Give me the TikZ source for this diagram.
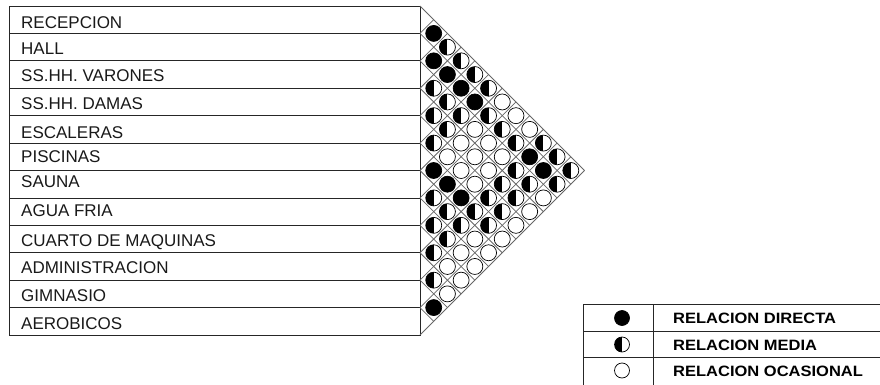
\documentclass[tikz,border=0pt]{standalone}
\usepackage{fontspec}
\setmainfont{Liberation Sans}
\def\hh{27.4167}
\newcommand\relrow[2]{%
  \foreach \t [count=\k] in {#2} {%
    \pgfmathtruncatemacro\jj{#1+\k}%
    \node[rel\t] (c-#1-\jj) at ({420+\k*\hh/2}, {6+(#1+\jj-1)*\hh/2}) {};
  }}
\tikzset{
  tbl/.style={draw=black!85, line width=0.8pt},
  diag/.style={draw=black!60, line width=0.8pt},
  reldot/.style={circle, draw=black, line width=0.7pt, fill=white, minimum size=16pt, inner sep=0pt},
  relD/.style={reldot, fill=black},
  halfpic/.style={path picture={\fill[black] (path picture bounding box.north) rectangle (path picture bounding box.south west);}},
  relM/.style={reldot, halfpic},
  relO/.style={reldot},
  legdot/.style={reldot, minimum size=15pt},
  lbl/.style={anchor=base west, inner sep=0pt, font=\fontsize{17}{19}\selectfont, text=black!90},
  leg/.style={anchor=base west, inner sep=0pt, font=\fontsize{15}{17}\selectfont\bfseries},
}
\begin{document}
\begin{tikzpicture}[x=1pt,y=-1pt]
\useasboundingbox (0,0) rectangle (880,385);
% table
\draw[tbl] (9.5,6) rectangle (420,335);
\foreach \k in {1,...,11} \draw[tbl] (9.5,{6+\k*\hh}) -- (420,{6+\k*\hh});
% diagonals
\foreach \k in {0,...,12} {
  \pgfmathsetmacro\yk{6+\k*\hh}
  \pgfmathsetmacro\dn{(335-\yk)/2}
  \pgfmathsetmacro\up{(\yk-6)/2}
  \draw[diag] (420,\yk) -- ++(\dn,\dn);
  \draw[diag] (420,\yk) -- ++(\up,-\up);
}
% labels
\node[lbl] (r1) at (21,28.3) {RECEPCION};
\node[lbl] (r2) at (21,54.6) {HALL};
\node[lbl] (r3) at (21,81.7) {SS.HH. VARONES};
\node[lbl] (r4) at (21,109.3) {SS.HH. DAMAS};
\node[lbl] (r5) at (21,138.3) {ESCALERAS};
\node[lbl] (r6) at (21,162.7) {PISCINAS};
\node[lbl] (r7) at (21,187.3) {SAUNA};
\node[lbl] (r8) at (21,216.7) {AGUA FRIA};
\node[lbl] (r9) at (21,246) {CUARTO DE MAQUINAS};
\node[lbl] (r10) at (21,273.3) {ADMINISTRACION};
\node[lbl] (r11) at (21,301) {GIMNASIO};
\node[lbl] (r12) at (21,329) {AEROBICOS};
% relations
\relrow{1}{D,M,M,M,M,O,O,O,M,M,M}
\relrow{2}{D,D,D,D,M,M,M,D,D,M}
\relrow{3}{M,M,M,O,O,O,M,M,O}
\relrow{4}{M,M,O,O,O,M,M,O}
\relrow{5}{M,O,O,O,M,M,O}
\relrow{6}{D,D,D,M,M,O}
\relrow{7}{M,M,M,O,O}
\relrow{8}{M,M,O,O}
\relrow{9}{M,O,O}
\relrow{10}{M,O}
\relrow{11}{D}
% legend
\draw[tbl] (583,304.5) -- (880,304.5);
\draw[tbl] (583,331) -- (880,331);
\draw[tbl] (583,357.5) -- (880,357.5);
\draw[tbl] (583,304.5) -- (583,385);
\draw[tbl] (653,304.5) -- (653,385);
\node[legdot, fill=black] (lg1) at (622,318) {};
\node[legdot, halfpic] (lg2) at (622,344.5) {};
\node[legdot] (lg3) at (622,370.5) {};
\node[leg] (lt1) at (673,323.5) {\scalebox{1.1}[1]{RELACION DIRECTA}};
\node[leg] (lt2) at (673,350) {\scalebox{1.1}[1]{RELACION MEDIA}};
\node[leg] (lt3) at (673,376) {\scalebox{1.1}[1]{RELACION OCASIONAL}};
\end{tikzpicture}
\end{document}
